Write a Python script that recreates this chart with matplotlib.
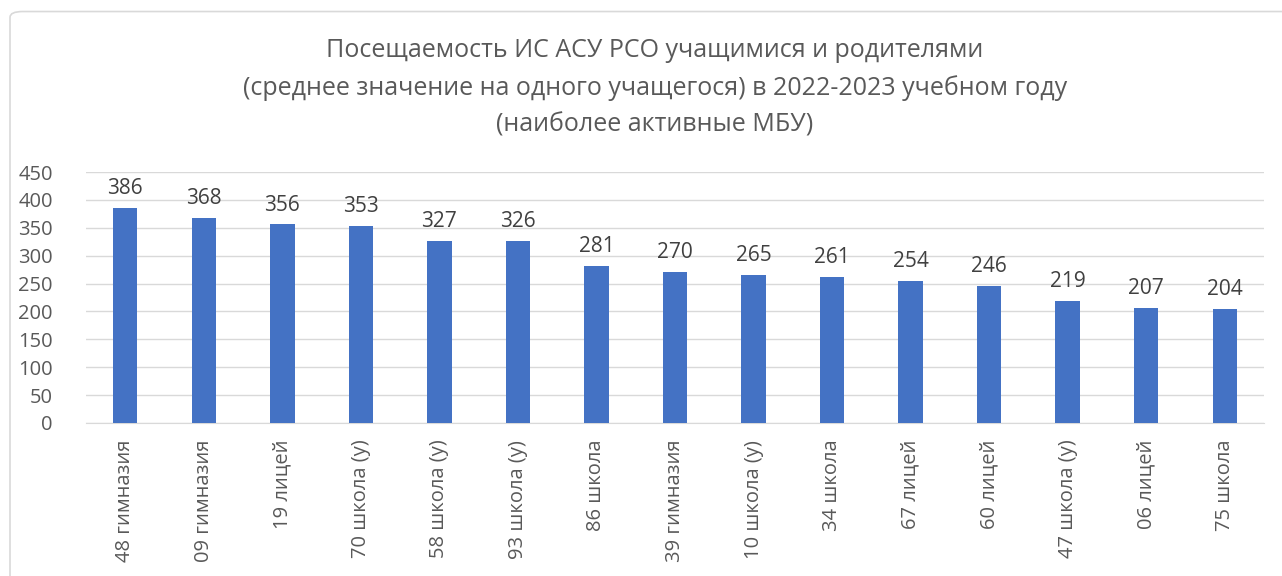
import matplotlib.pyplot as plt
from matplotlib.patches import FancyBboxPatch

schools = ["48 гимназия", "09 гимназия", "19 лицей", "70 школа (у)", "58 школа (у)",
           "93 школа (у)", "86 школа", "39 гимназия", "10 школа (у)", "34 школа",
           "67 лицей", "60 лицей", "47 школа (у)", "06 лицей", "75 школа"]
visits = [386, 368, 356, 353, 327, 326, 281, 270, 265, 261, 254, 246, 219, 207, 204]
yticks = [0, 50, 100, 150, 200, 250, 300, 350, 400, 450]
title = ("Посещаемость ИС АСУ РСО учащимися и родителями\n"
         "(среднее значение на одного учащегося) в 2022-2023 учебном году\n"
         "(наиболее активные МБУ)")

plt.rcParams['font.family'] = ['Open Sans', 'DejaVu Sans']

fig = plt.figure(figsize=(12.82, 5.76), dpi=100)
ax = fig.add_axes([86 / 1282, 1 - 423 / 576, (1264 - 86) / 1282, (423 - 172) / 576])

# chart border like excel
fig.patches.append(FancyBboxPatch((10 / 1282, -0.05), 1.05, 1.03, boxstyle="round,pad=0,rounding_size=0.01",
                                  transform=fig.transFigure, fill=False, edgecolor="#d9d9d9", lw=1.2))

x = range(len(schools))
bars = ax.bar(x, visits, width=0.31, color="#4472c4", zorder=3)
for b, v in zip(bars, visits):
    ax.text(b.get_x() + b.get_width() / 2, v + 16, str(v), ha="center", va="bottom",
            fontsize=15, color="#404040")

ax.set_xlim(-0.5, len(schools) - 0.5)
ax.set_ylim(0, 450)
ax.set_yticks(yticks)
ax.set_xticks(list(x))
ax.set_xticklabels(schools, rotation=90, fontsize=14.5, color="#595959")
ax.tick_params(axis="y", labelsize=14.5, labelcolor="#595959", length=0, pad=24)
ax.tick_params(axis="x", length=0, pad=12)
ax.yaxis.grid(True, color="#d9d9d9", lw=1, zorder=0)
for s in ["top", "right", "left"]:
    ax.spines[s].set_visible(False)
ax.spines["bottom"].set_color("#d9d9d9")

fig.text(655 / 1282, 1 - 38 / 576, title, ha="center", va="top", fontsize=18,
         color="#595959", linespacing=1.62)

fig.savefig("out.png", dpi=100)
